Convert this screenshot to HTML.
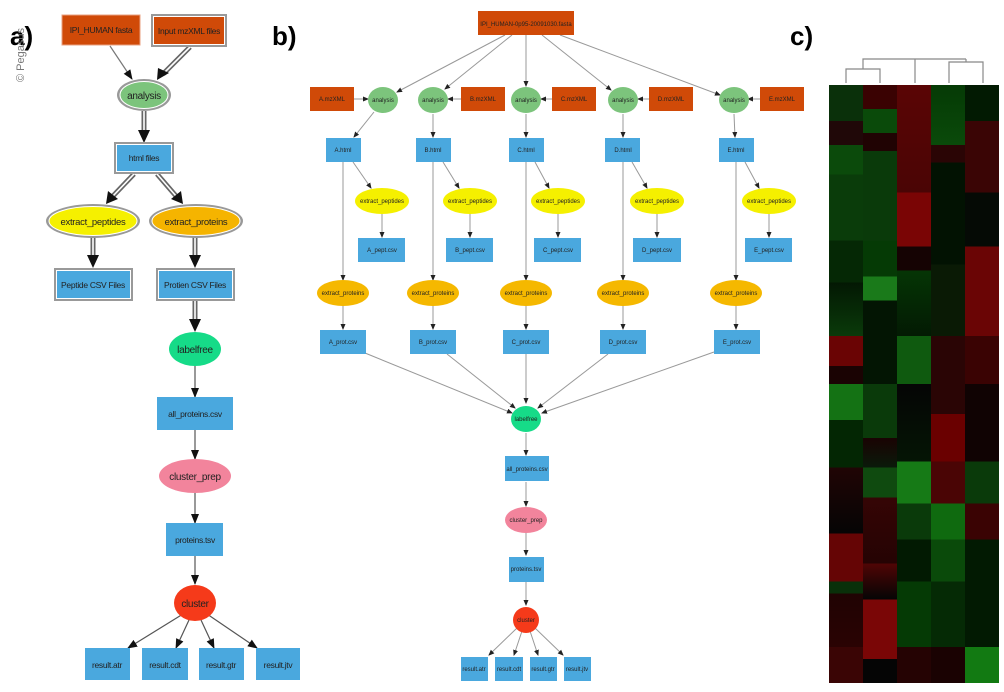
<!DOCTYPE html>
<html><head><meta charset="utf-8"><style>
html,body{margin:0;padding:0;background:#fff;}
svg{display:block;font-family:"Liberation Sans",sans-serif;}
</style></head><body>
<svg width="1004" height="692" viewBox="0 0 1004 692" xmlns="http://www.w3.org/2000/svg">
<defs>
<marker id="ah" markerUnits="userSpaceOnUse" markerWidth="10" markerHeight="10" refX="9" refY="5" orient="auto"><path d="M0,1 L10,5 L0,9 z" fill="#111"/></marker>
<marker id="as" markerUnits="userSpaceOnUse" markerWidth="6" markerHeight="6" refX="5" refY="3" orient="auto"><path d="M0,0.5 L6,3 L0,5.5 z" fill="#222"/></marker>
</defs>

<!-- ============ Panel a ============ -->
<text x="10" y="45" font-size="26" font-weight="bold" fill="#000">a)</text>
<text transform="translate(24,82) rotate(-90)" font-size="11" fill="#777">© Pegasus</text>

<g stroke="#777" fill="none">
<line x1="110" y1="46" x2="132" y2="79" stroke-width="1.2" marker-end="url(#ah)"/>
</g>
<g>
<g stroke="#666" stroke-width="5" fill="none">
<line x1="190" y1="47" x2="163" y2="74"/>
<line x1="144" y1="111" x2="144" y2="132"/>
<line x1="134" y1="174" x2="113" y2="196"/>
<line x1="157" y1="174" x2="176" y2="196"/>
<line x1="93" y1="237" x2="93" y2="256"/>
<line x1="195" y1="237" x2="195" y2="256"/>
<line x1="195" y1="301" x2="195" y2="320"/>
</g>
<g stroke="#fff" stroke-width="1.6" fill="none">
<line x1="190" y1="47" x2="163" y2="74"/>
<line x1="144" y1="111" x2="144" y2="132"/>
<line x1="134" y1="174" x2="113" y2="196"/>
<line x1="157" y1="174" x2="176" y2="196"/>
<line x1="93" y1="237" x2="93" y2="256"/>
<line x1="195" y1="237" x2="195" y2="256"/>
<line x1="195" y1="301" x2="195" y2="320"/>
</g>
<g fill="#111">
<polygon points="157,80 158,68 169,73"/>
<polygon points="138,130 150,130 144,143"/>
<polygon points="106,204 108,191 118,199"/>
<polygon points="183,204 171,199 181,191"/>
<polygon points="87,255 99,255 93,268"/>
<polygon points="189,255 201,255 195,268"/>
<polygon points="189,319 201,319 195,332"/>
</g>
</g>
<g stroke="#555" stroke-width="1.2" fill="none">
<line x1="195" y1="366" x2="195" y2="397" marker-end="url(#ah)"/>
<line x1="195" y1="430" x2="195" y2="459" marker-end="url(#ah)"/>
<line x1="195" y1="493" x2="195" y2="523" marker-end="url(#ah)"/>
<line x1="195" y1="556" x2="195" y2="584" marker-end="url(#ah)"/>
<line x1="183" y1="614" x2="128" y2="648" marker-end="url(#ah)"/>
<line x1="189" y1="620" x2="176" y2="648" marker-end="url(#ah)"/>
<line x1="201" y1="620" x2="214" y2="648" marker-end="url(#ah)"/>
<line x1="207" y1="614" x2="257" y2="648" marker-end="url(#ah)"/>
</g>

<g font-size="8.5" fill="#222" text-anchor="middle" letter-spacing="-0.3">
<rect x="62" y="15" width="78" height="30" fill="#d04a08" stroke="#e8a080" stroke-width="1"/>
<text x="101" y="33">IPI_HUMAN fasta</text>
<rect x="151" y="14" width="76" height="33" fill="#999"/>
<rect x="153.5" y="16.5" width="71" height="28" fill="#d04a08" stroke="#fff" stroke-width="1"/>
<text x="189" y="34">Input mzXML files</text>

<ellipse cx="144" cy="95" rx="27" ry="16" fill="#999"/>
<ellipse cx="144" cy="95" rx="24" ry="13.5" fill="#7cc47c" stroke="#fff" stroke-width="1"/>
<text x="144" y="99" font-size="10">analysis</text>

<rect x="114" y="142" width="60" height="32" fill="#999"/>
<rect x="116.5" y="144.5" width="55" height="27" fill="#4aa8de" stroke="#fff" stroke-width="1"/>
<text x="144" y="161">html files</text>

<ellipse cx="93" cy="221" rx="47" ry="17" fill="#999"/>
<ellipse cx="93" cy="221" rx="44" ry="14.5" fill="#f5f000" stroke="#fff" stroke-width="1"/>
<text x="93" y="225" font-size="9.5">extract_peptides</text>
<ellipse cx="196" cy="221" rx="47" ry="17" fill="#999"/>
<ellipse cx="196" cy="221" rx="44" ry="14.5" fill="#f5b400" stroke="#fff" stroke-width="1"/>
<text x="196" y="225" font-size="9.5">extract_proteins</text>

<rect x="54" y="268" width="79" height="33" fill="#999"/>
<rect x="56.5" y="270.5" width="74" height="28" fill="#4aa8de" stroke="#fff" stroke-width="1"/>
<text x="93" y="288">Peptide CSV Files</text>
<rect x="156" y="268" width="79" height="33" fill="#999"/>
<rect x="158.5" y="270.5" width="74" height="28" fill="#4aa8de" stroke="#fff" stroke-width="1"/>
<text x="195" y="288">Protien CSV Files</text>

<ellipse cx="195" cy="349" rx="26" ry="17" fill="#16db88"/>
<text x="195" y="353" font-size="10">labelfree</text>
<rect x="157" y="397" width="76" height="33" fill="#4aa8de"/>
<text x="195" y="417">all_proteins.csv</text>
<ellipse cx="195" cy="476" rx="36" ry="17" fill="#f2849c"/>
<text x="195" y="480" font-size="10">cluster_prep</text>
<rect x="166" y="523" width="57" height="33" fill="#4aa8de"/>
<text x="195" y="543">proteins.tsv</text>
<ellipse cx="195" cy="603" rx="21" ry="18" fill="#f53a1a"/>
<text x="195" y="607" font-size="10">cluster</text>

<rect x="85" y="648" width="45" height="32" fill="#4aa8de"/><text x="107" y="668">result.atr</text>
<rect x="142" y="648" width="46" height="32" fill="#4aa8de"/><text x="165" y="668">result.cdt</text>
<rect x="199" y="648" width="45" height="32" fill="#4aa8de"/><text x="221" y="668">result.gtr</text>
<rect x="256" y="648" width="44" height="32" fill="#4aa8de"/><text x="278" y="668">result.jtv</text>
</g>

<!-- ============ Panel b ============ -->
<text x="272" y="45" font-size="26" font-weight="bold" fill="#000">b)</text>

<g stroke="#999" stroke-width="1" fill="none" marker-end="url(#as)">
<line x1="505" y1="35" x2="397" y2="92"/>
<line x1="512" y1="35" x2="445" y2="89"/>
<line x1="526" y1="35" x2="526" y2="86"/>
<line x1="542" y1="35" x2="611" y2="90"/>
<line x1="560" y1="35" x2="720" y2="95"/>
<line x1="354" y1="99" x2="368" y2="99"/>
<line x1="461" y1="99" x2="448" y2="99"/>
<line x1="552" y1="99" x2="541" y2="99"/>
<line x1="649" y1="99" x2="638" y2="99"/>
<line x1="760" y1="99" x2="748" y2="99"/>
<line x1="374" y1="112" x2="354" y2="137"/>
<line x1="433" y1="114" x2="433" y2="137"/>
<line x1="526" y1="114" x2="526" y2="137"/>
<line x1="623" y1="114" x2="623" y2="137"/>
<line x1="734" y1="114" x2="735" y2="137"/>
<line x1="353" y1="162" x2="371" y2="188"/>
<line x1="443" y1="162" x2="459" y2="188"/>
<line x1="535" y1="162" x2="549" y2="188"/>
<line x1="632" y1="162" x2="647" y2="188"/>
<line x1="745" y1="162" x2="759" y2="188"/>
<line x1="382" y1="214" x2="382" y2="237"/>
<line x1="470" y1="214" x2="470" y2="237"/>
<line x1="558" y1="214" x2="558" y2="237"/>
<line x1="657" y1="214" x2="657" y2="237"/>
<line x1="769" y1="214" x2="769" y2="237"/>
<line x1="343" y1="162" x2="343" y2="280"/>
<line x1="433" y1="162" x2="433" y2="280"/>
<line x1="526" y1="162" x2="526" y2="280"/>
<line x1="623" y1="162" x2="623" y2="280"/>
<line x1="736" y1="162" x2="736" y2="280"/>
<line x1="343" y1="306" x2="343" y2="329"/>
<line x1="433" y1="306" x2="433" y2="329"/>
<line x1="526" y1="306" x2="526" y2="329"/>
<line x1="623" y1="306" x2="623" y2="329"/>
<line x1="736" y1="306" x2="736" y2="329"/>
<line x1="365" y1="353" x2="512" y2="413"/>
<line x1="447" y1="354" x2="515" y2="408"/>
<line x1="526" y1="354" x2="526" y2="403"/>
<line x1="608" y1="354" x2="538" y2="408"/>
<line x1="714" y1="352" x2="542" y2="413"/>
<line x1="526" y1="433" x2="526" y2="455"/>
<line x1="526" y1="482" x2="526" y2="506"/>
<line x1="526" y1="533" x2="526" y2="555"/>
<line x1="526" y1="582" x2="526" y2="605"/>
<line x1="517" y1="628" x2="489" y2="655"/>
<line x1="522" y1="631" x2="514" y2="655"/>
<line x1="530" y1="631" x2="538" y2="655"/>
<line x1="535" y1="628" x2="563" y2="655"/>
</g>

<g font-size="6" fill="#222" text-anchor="middle">
<rect x="478" y="11" width="96" height="24" fill="#d04a08"/><text x="526" y="26">IPI_HUMAN-0p95-20091030.fasta</text>
<rect x="310" y="87" width="44" height="24" fill="#d04a08"/><text x="332" y="101">A.mzXML</text>
<rect x="461" y="87" width="44" height="24" fill="#d04a08"/><text x="483" y="101">B.mzXML</text>
<rect x="552" y="87" width="44" height="24" fill="#d04a08"/><text x="574" y="101">C.mzXML</text>
<rect x="649" y="87" width="44" height="24" fill="#d04a08"/><text x="671" y="101">D.mzXML</text>
<rect x="760" y="87" width="44" height="24" fill="#d04a08"/><text x="782" y="101">E.mzXML</text>

<g fill="#7cc47c">
<ellipse cx="383" cy="100" rx="15" ry="13"/><ellipse cx="433" cy="100" rx="15" ry="13"/><ellipse cx="526" cy="100" rx="15" ry="13"/><ellipse cx="623" cy="100" rx="15" ry="13"/><ellipse cx="734" cy="100" rx="15" ry="13"/>
</g>
<text x="383" y="102">analysis</text><text x="433" y="102">analysis</text><text x="526" y="102">analysis</text><text x="623" y="102">analysis</text><text x="734" y="102">analysis</text>

<g fill="#4aa8de">
<rect x="326" y="138" width="35" height="24"/><rect x="416" y="138" width="35" height="24"/><rect x="509" y="138" width="35" height="24"/><rect x="605" y="138" width="35" height="24"/><rect x="719" y="138" width="35" height="24"/>
</g>
<text x="343" y="152">A.html</text><text x="433" y="152">B.html</text><text x="526" y="152">C.html</text><text x="623" y="152">D.html</text><text x="736" y="152">E.html</text>

<g fill="#f5f000">
<ellipse cx="382" cy="201" rx="27" ry="13"/><ellipse cx="470" cy="201" rx="27" ry="13"/><ellipse cx="558" cy="201" rx="27" ry="13"/><ellipse cx="657" cy="201" rx="27" ry="13"/><ellipse cx="769" cy="201" rx="27" ry="13"/>
</g>
<text x="382" y="203">extract_peptides</text><text x="470" y="203">extract_peptides</text><text x="558" y="203">extract_peptides</text><text x="657" y="203">extract_peptides</text><text x="769" y="203">extract_peptides</text>

<g fill="#4aa8de">
<rect x="358" y="238" width="47" height="24"/><rect x="446" y="238" width="47" height="24"/><rect x="534" y="238" width="47" height="24"/><rect x="633" y="238" width="48" height="24"/><rect x="745" y="238" width="47" height="24"/>
</g>
<text x="382" y="252">A_pept.csv</text><text x="470" y="252">B_pept.csv</text><text x="558" y="252">C_pept.csv</text><text x="657" y="252">D_pept.csv</text><text x="769" y="252">E_pept.csv</text>

<g fill="#f5b800">
<ellipse cx="343" cy="293" rx="26" ry="13"/><ellipse cx="433" cy="293" rx="26" ry="13"/><ellipse cx="526" cy="293" rx="26" ry="13"/><ellipse cx="623" cy="293" rx="26" ry="13"/><ellipse cx="736" cy="293" rx="26" ry="13"/>
</g>
<text x="343" y="295">extract_proteins</text><text x="433" y="295">extract_proteins</text><text x="526" y="295">extract_proteins</text><text x="623" y="295">extract_proteins</text><text x="736" y="295">extract_proteins</text>

<g fill="#4aa8de">
<rect x="320" y="330" width="46" height="24"/><rect x="410" y="330" width="46" height="24"/><rect x="503" y="330" width="46" height="24"/><rect x="600" y="330" width="46" height="24"/><rect x="714" y="330" width="46" height="24"/>
</g>
<text x="343" y="344">A_prot.csv</text><text x="433" y="344">B_prot.csv</text><text x="526" y="344">C_prot.csv</text><text x="623" y="344">D_prot.csv</text><text x="737" y="344">E_prot.csv</text>

<ellipse cx="526" cy="419" rx="15" ry="13" fill="#16db88"/><text x="526" y="421">labelfree</text>
<rect x="505" y="456" width="44" height="25" fill="#4aa8de"/><text x="527" y="471">all_proteins.csv</text>
<ellipse cx="526" cy="520" rx="21" ry="13" fill="#f2849c"/><text x="526" y="522">cluster_prep</text>
<rect x="509" y="557" width="35" height="25" fill="#4aa8de"/><text x="526" y="571">proteins.tsv</text>
<ellipse cx="526" cy="620" rx="13" ry="13" fill="#f53a1a"/><text x="526" y="622">cluster</text>
<g fill="#4aa8de">
<rect x="461" y="657" width="27" height="24"/><rect x="495" y="657" width="28" height="24"/><rect x="530" y="657" width="27" height="24"/><rect x="564" y="657" width="27" height="24"/>
</g>
<text x="474" y="671">result.atr</text><text x="509" y="671">result.cdt</text><text x="543" y="671">result.gtr</text><text x="577" y="671">result.jtv</text>
</g>

<!-- ============ Panel c ============ -->
<text x="790" y="45" font-size="26" font-weight="bold" fill="#000">c)</text>
<g stroke="#888" stroke-width="1.2" fill="none">
<polyline points="846,83 846,69 880,69 880,83"/>
<polyline points="863,69 863,59 966,59"/>
<polyline points="915,83 915,59"/>
<polyline points="949,83 949,62 983,62 983,83"/>
<polyline points="966,62 966,59"/>
</g>
<g>
<rect x="829" y="85" width="34" height="598" fill="url(#c1)"/>
<rect x="863" y="85" width="34" height="598" fill="url(#c2)"/>
<rect x="897" y="85" width="34" height="598" fill="url(#c3)"/>
<rect x="931" y="85" width="34" height="598" fill="url(#c4)"/>
<rect x="965" y="85" width="34" height="598" fill="url(#c5)"/>
</g>
<defs>
<linearGradient id="c1" x1="0" y1="0" x2="0" y2="1">
<stop offset="0" stop-color="#0a300a"/><stop offset=".06" stop-color="#0a300a"/>
<stop offset=".06" stop-color="#200808"/><stop offset=".1" stop-color="#200808"/>
<stop offset=".1" stop-color="#0b4a0b"/><stop offset=".15" stop-color="#0b4a0b"/>
<stop offset=".15" stop-color="#0a3c0a"/><stop offset=".26" stop-color="#0a3c0a"/>
<stop offset=".26" stop-color="#052805"/><stop offset=".33" stop-color="#052805"/>
<stop offset=".33" stop-color="#031803"/><stop offset=".42" stop-color="#0a3a0a"/>
<stop offset=".42" stop-color="#6a0404"/><stop offset=".47" stop-color="#6a0404"/>
<stop offset=".47" stop-color="#1a0303"/><stop offset=".5" stop-color="#1a0303"/>
<stop offset=".5" stop-color="#147214"/><stop offset=".56" stop-color="#147214"/>
<stop offset=".56" stop-color="#032603"/><stop offset=".64" stop-color="#032603"/>
<stop offset=".64" stop-color="#200505"/><stop offset=".75" stop-color="#050505"/>
<stop offset=".75" stop-color="#650505"/><stop offset=".83" stop-color="#650505"/>
<stop offset=".83" stop-color="#0a300a"/><stop offset=".85" stop-color="#0a300a"/>
<stop offset=".85" stop-color="#200303"/><stop offset=".94" stop-color="#2a0303"/>
<stop offset=".94" stop-color="#3a0505"/><stop offset="1" stop-color="#3a0505"/>
</linearGradient>
<linearGradient id="c2" x1="0" y1="0" x2="0" y2="1">
<stop offset="0" stop-color="#3a0202"/><stop offset=".04" stop-color="#3a0202"/>
<stop offset=".04" stop-color="#0a4a0a"/><stop offset=".08" stop-color="#0a4a0a"/>
<stop offset=".08" stop-color="#200303"/><stop offset=".11" stop-color="#200303"/>
<stop offset=".11" stop-color="#0a3a0a"/><stop offset=".26" stop-color="#0a3a0a"/>
<stop offset=".26" stop-color="#053a05"/><stop offset=".32" stop-color="#053a05"/>
<stop offset=".32" stop-color="#1a7a1a"/><stop offset=".36" stop-color="#1a7a1a"/>
<stop offset=".36" stop-color="#031503"/><stop offset=".5" stop-color="#031503"/>
<stop offset=".5" stop-color="#0a3a0a"/><stop offset=".59" stop-color="#0a3a0a"/>
<stop offset=".59" stop-color="#1a0303"/><stop offset=".64" stop-color="#0a1a0a"/>
<stop offset=".64" stop-color="#0f4a0f"/><stop offset=".69" stop-color="#0f4a0f"/>
<stop offset=".69" stop-color="#350505"/><stop offset=".8" stop-color="#250303"/>
<stop offset=".8" stop-color="#500505"/><stop offset=".86" stop-color="#050505"/>
<stop offset=".86" stop-color="#7a0606"/><stop offset=".96" stop-color="#7a0606"/>
<stop offset=".96" stop-color="#050505"/><stop offset="1" stop-color="#050505"/>
</linearGradient>
<linearGradient id="c3" x1="0" y1="0" x2="0" y2="1">
<stop offset="0" stop-color="#5a0505"/><stop offset=".18" stop-color="#4a0505"/>
<stop offset=".18" stop-color="#7a0505"/><stop offset=".27" stop-color="#7a0505"/>
<stop offset=".27" stop-color="#150303"/><stop offset=".31" stop-color="#150303"/>
<stop offset=".31" stop-color="#053505"/><stop offset=".42" stop-color="#031a03"/>
<stop offset=".42" stop-color="#0f5a0f"/><stop offset=".5" stop-color="#0f5a0f"/>
<stop offset=".5" stop-color="#050505"/><stop offset=".63" stop-color="#051505"/>
<stop offset=".63" stop-color="#167a16"/><stop offset=".7" stop-color="#167a16"/>
<stop offset=".7" stop-color="#0a3a0a"/><stop offset=".76" stop-color="#0a3a0a"/>
<stop offset=".76" stop-color="#021a02"/><stop offset=".83" stop-color="#021a02"/>
<stop offset=".83" stop-color="#053a05"/><stop offset=".94" stop-color="#053a05"/>
<stop offset=".94" stop-color="#250303"/><stop offset="1" stop-color="#250303"/>
</linearGradient>
<linearGradient id="c4" x1="0" y1="0" x2="0" y2="1">
<stop offset="0" stop-color="#053a05"/><stop offset=".1" stop-color="#0a4a0a"/>
<stop offset=".1" stop-color="#2a0505"/><stop offset=".13" stop-color="#2a0505"/>
<stop offset=".13" stop-color="#021202"/><stop offset=".3" stop-color="#021202"/>
<stop offset=".3" stop-color="#0a1a05"/><stop offset=".42" stop-color="#0a1a05"/>
<stop offset=".42" stop-color="#2a0505"/><stop offset=".55" stop-color="#2a0505"/>
<stop offset=".55" stop-color="#6a0000"/><stop offset=".63" stop-color="#6a0000"/>
<stop offset=".63" stop-color="#4a0505"/><stop offset=".7" stop-color="#4a0505"/>
<stop offset=".7" stop-color="#0f6a0f"/><stop offset=".76" stop-color="#0f6a0f"/>
<stop offset=".76" stop-color="#0a4a0a"/><stop offset=".83" stop-color="#0a4a0a"/>
<stop offset=".83" stop-color="#052a05"/><stop offset=".94" stop-color="#052a05"/>
<stop offset=".94" stop-color="#1a0202"/><stop offset="1" stop-color="#1a0202"/>
</linearGradient>
<linearGradient id="c5" x1="0" y1="0" x2="0" y2="1">
<stop offset="0" stop-color="#021a02"/><stop offset=".06" stop-color="#021a02"/>
<stop offset=".06" stop-color="#3a0505"/><stop offset=".18" stop-color="#3a0505"/>
<stop offset=".18" stop-color="#050a05"/><stop offset=".27" stop-color="#050a05"/>
<stop offset=".27" stop-color="#6a0505"/><stop offset=".42" stop-color="#6a0505"/>
<stop offset=".42" stop-color="#3a0303"/><stop offset=".5" stop-color="#3a0303"/>
<stop offset=".5" stop-color="#100303"/><stop offset=".63" stop-color="#100303"/>
<stop offset=".63" stop-color="#0a3a0a"/><stop offset=".7" stop-color="#0a3a0a"/>
<stop offset=".7" stop-color="#3a0303"/><stop offset=".76" stop-color="#3a0303"/>
<stop offset=".76" stop-color="#021a02"/><stop offset=".94" stop-color="#021a02"/>
<stop offset=".94" stop-color="#127a12"/><stop offset="1" stop-color="#127a12"/>
</linearGradient>
</defs>
</svg>
</body></html>
